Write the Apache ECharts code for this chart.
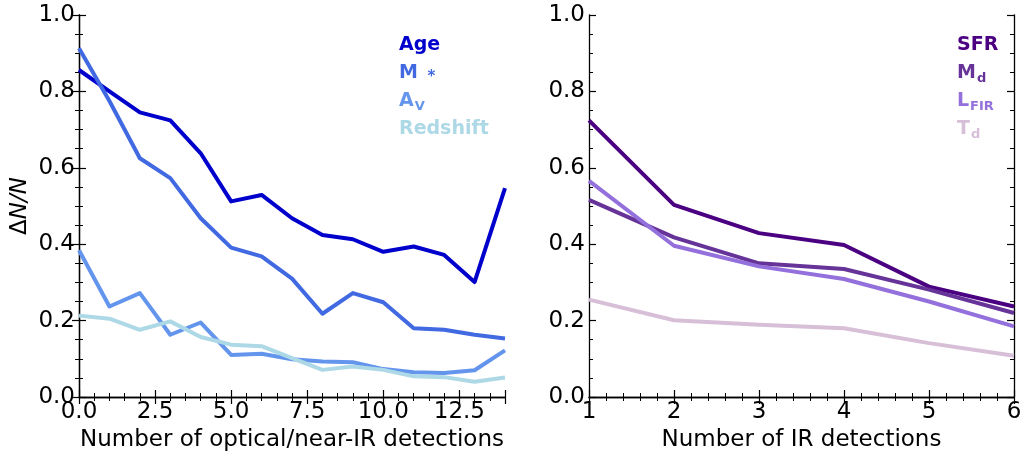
<!DOCTYPE html>
<html>
<head>
<meta charset="utf-8">
<script src="https://cdn.jsdelivr.net/npm/echarts@6/dist/echarts.min.js"></script>
<style>
html, body { margin: 0; padding: 0; background: #fff; }
#chart { width: 1023px; height: 454px; }
</style>
</head>
<body>
<div id="chart"></div>
<script>
// 左图：光学/近红外探测数
var xLeft = [0, 1, 2, 3, 4, 5, 6, 7, 8, 9, 10, 11, 12, 13, 14];
var age = [0.856, 0.800, 0.745, 0.724, 0.638, 0.512, 0.529, 0.468, 0.424, 0.413, 0.380, 0.394, 0.372, 0.301, 0.547];
var mStar = [0.913, 0.775, 0.625, 0.573, 0.468, 0.391, 0.368, 0.310, 0.218, 0.272, 0.248, 0.180, 0.176, 0.163, 0.153];
var av = [0.384, 0.237, 0.272, 0.163, 0.195, 0.110, 0.113, 0.099, 0.093, 0.091, 0.073, 0.065, 0.063, 0.070, 0.122];
var redshift = [0.213, 0.205, 0.176, 0.198, 0.157, 0.137, 0.133, 0.102, 0.071, 0.080, 0.071, 0.054, 0.052, 0.040, 0.051];

// 右图：红外探测数
var xRight = [1, 2, 3, 4, 5, 6];
var sfr = [0.724, 0.503, 0.429, 0.398, 0.289, 0.237];
var md = [0.516, 0.418, 0.350, 0.335, 0.281, 0.220];
var lfir = [0.566, 0.396, 0.342, 0.309, 0.250, 0.185];
var td = [0.255, 0.201, 0.189, 0.180, 0.141, 0.108];

function pairs(xs, ys) {
    return xs.map(function (x, i) { return [x, ys[i]]; });
}

var font = 'DejaVu Sans';
var fs = 23;
var axisLine = { show: true, lineStyle: { color: '#000', width: 1.3 } };
// 刻度朝内
var tick = { inside: false, length: -7, lineStyle: { color: '#000', width: 1.2 } };
function minor(split) {
    return { show: true, splitNumber: split, length: -4, lineStyle: { color: '#000', width: 1 } };
}

function xAxisPair(gi, min, max, interval, split, name, fmt, showMax) {
    return [{
        type: 'value', gridIndex: gi, min: min, max: max, interval: interval,
        name: name, nameLocation: 'middle', nameGap: 32,
        nameTextStyle: { fontFamily: font, fontSize: fs, color: '#000' },
        axisLine: axisLine, axisTick: tick, minorTick: minor(split),
        axisLabel: { fontFamily: font, fontSize: fs, color: '#000', margin: 4,
            showMaxLabel: showMax, formatter: fmt },
        splitLine: { show: false }
    }, {
        type: 'value', gridIndex: gi, position: 'top', min: min, max: max, interval: interval,
        axisLine: axisLine, axisTick: tick, minorTick: minor(split),
        axisLabel: { show: false },
        splitLine: { show: false }
    }];
}

function yAxisPair(gi, name) {
    return [{
        type: 'value', gridIndex: gi, min: 0, max: 1, interval: 0.2,
        name: name, nameLocation: 'middle', nameGap: 47,
        nameTextStyle: { fontFamily: font, fontSize: fs, color: '#000', fontStyle: 'italic',
            rich: { d: { fontFamily: font, fontSize: fs, color: '#000', fontStyle: 'normal' } } },
        axisLine: axisLine, axisTick: tick, minorTick: minor(4),
        axisLabel: { fontFamily: font, fontSize: fs, color: '#000', margin: 4,
            formatter: function (v) { return v.toFixed(1); } },
        splitLine: { show: false }
    }, {
        type: 'value', gridIndex: gi, position: 'right', min: 0, max: 1, interval: 0.2,
        axisLine: axisLine, axisTick: tick, minorTick: minor(4),
        axisLabel: { show: false },
        splitLine: { show: false }
    }];
}

function line(name, xi, yi, data, color) {
    return {
        name: name, type: 'line', xAxisIndex: xi, yAxisIndex: yi,
        data: data, showSymbol: false, symbol: 'none', silent: true,
        lineStyle: { color: color, width: 4, join: 'round' },
        itemStyle: { color: color }, z: 3
    };
}

var colors = {
    age: '#0000CD', mStar: '#4169E1', av: '#6495ED', redshift: '#ADD8E6',
    sfr: '#4B0082', md: '#663399', lfir: '#9370DB', td: '#D8BFD8'
};

function legendItems(names, keys) {
    return names.map(function (n, i) {
        return { name: n, icon: 'none', textStyle: { color: colors[keys[i]] } };
    });
}

var labelMap = {
    'Age': 'Age',
    'M*': 'M {star|*}',
    'Av': 'A{sub|V}',
    'Redshift': 'Redshift',
    'SFR': 'SFR',
    'Md': 'M{sub|d}',
    'LFIR': 'L{sub|FIR}',
    'Td': 'T{sub|d}'
};

var legendStyle = {
    fontFamily: font, fontWeight: 'bold', fontSize: 19, lineHeight: 24,
    rich: {
        sub: { fontFamily: font, fontWeight: 'bold', fontSize: 13, lineHeight: 13,
            verticalAlign: 'bottom', padding: [0, 0, 0, 1] },
        star: { fontFamily: font, fontWeight: 'bold', fontSize: 15, lineHeight: 4,
            verticalAlign: 'bottom', padding: [0, 0, 0, 3] }
    }
};

var myChart = echarts.init(document.getElementById('chart'), null, { renderer: 'canvas' });

var option = {
    backgroundColor: '#fff',
    animation: false,
    grid: [
        { left: 79, right: 518, top: 15, bottom: 57, outerBoundsMode: 'none' },
        { left: 589, right: 9, top: 15, bottom: 57, outerBoundsMode: 'none' }
    ],
    xAxis: xAxisPair(0, 0, 14, 2.5, 5, 'Number of optical/near-IR detections',
            function (v) { return v.toFixed(1); }, false)
        .concat(xAxisPair(1, 1, 6, 1, 5, 'Number of IR detections',
            function (v) { return String(v); }, true)),
    yAxis: yAxisPair(0, '{d|Δ}N/N').concat(yAxisPair(1, '')),
    legend: [{
        orient: 'vertical', left: 389, top: 28, itemGap: 4, itemWidth: 0, itemHeight: 22,
        selectedMode: false,
        data: legendItems(['Age', 'M*', 'Av', 'Redshift'], ['age', 'mStar', 'av', 'redshift']),
        formatter: function (n) { return labelMap[n]; },
        textStyle: legendStyle
    }, {
        orient: 'vertical', left: 947, top: 28, itemGap: 4, itemWidth: 0, itemHeight: 22,
        selectedMode: false,
        data: legendItems(['SFR', 'Md', 'LFIR', 'Td'], ['sfr', 'md', 'lfir', 'td']),
        formatter: function (n) { return labelMap[n]; },
        textStyle: legendStyle
    }],
    series: [
        line('Age', 0, 0, pairs(xLeft, age), colors.age),
        line('M*', 0, 0, pairs(xLeft, mStar), colors.mStar),
        line('Av', 0, 0, pairs(xLeft, av), colors.av),
        line('Redshift', 0, 0, pairs(xLeft, redshift), colors.redshift),
        line('SFR', 2, 2, pairs(xRight, sfr), colors.sfr),
        line('Md', 2, 2, pairs(xRight, md), colors.md),
        line('LFIR', 2, 2, pairs(xRight, lfir), colors.lfir),
        line('Td', 2, 2, pairs(xRight, td), colors.td)
    ]
};
myChart.setOption(option);
</script>
</body>
</html>
